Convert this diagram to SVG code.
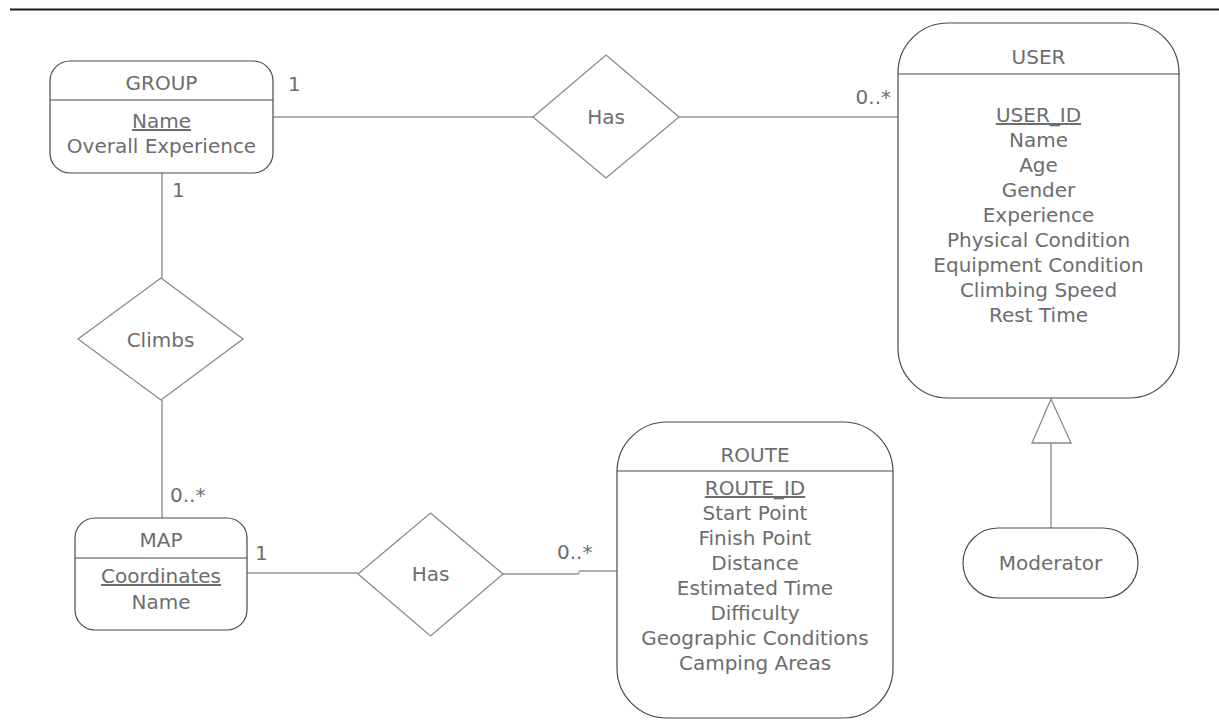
<svg xmlns="http://www.w3.org/2000/svg" width="1219" height="720" viewBox="0 0 1219 720">
<style>
  .ent { fill: #ffffff; stroke: #4a4a4a; stroke-width: 1.2; }
  .div { stroke: #4a4a4a; stroke-width: 1.2; fill: none; }
  .rel { fill: #ffffff; stroke: #8a8a8a; stroke-width: 1.3; }
  .con { stroke: #b0b0b0; stroke-width: 2; fill: none; }
  text { font-family: "DejaVu Sans", Verdana, sans-serif; font-size: 20px; fill: #6d6d6d; text-anchor: middle; }
  .key { text-decoration: underline; }
  .lbl { text-anchor: start; }
  .lblr { text-anchor: end; }
</style>
<rect width="1219" height="720" fill="#ffffff"/>
<line x1="10" y1="9.5" x2="1219" y2="9.5" stroke="#1a1a1a" stroke-width="2"/>

<g id="connectors">
  <line class="con" x1="273" y1="117" x2="533" y2="117"/>
  <line class="con" x1="679" y1="117" x2="898" y2="117"/>
  <line class="con" x1="162" y1="173" x2="162" y2="278"/>
  <line class="con" x1="162" y1="400" x2="162" y2="518"/>
  <line class="con" x1="247" y1="573" x2="358" y2="573"/>
  <polyline class="con" points="503,574 578,574 580,571 617,571"/>
  <line class="con" x1="1051" y1="528" x2="1051" y2="443"/>
  <polygon points="1051,399 1032,443 1071,443" fill="#ffffff" stroke="#8a8a8a" stroke-width="1.3"/>
  <text class="lbl" x="288" y="91">1</text>
  <text class="lblr" x="891" y="104">0..*</text>
  <text class="lbl" x="172" y="197">1</text>
  <text class="lbl" x="170" y="502">0..*</text>
  <text class="lbl" x="255" y="560">1</text>
  <text class="lbl" x="557" y="559">0..*</text>
</g>

<g id="group">
  <rect class="ent" x="50" y="61" width="223" height="112" rx="20" ry="20"/>
  <line class="div" x1="50" y1="100" x2="273" y2="100"/>
  <text x="161.5" y="90">GROUP</text>
  <text class="key" x="161.5" y="128">Name</text>
  <text x="161.5" y="153">Overall Experience</text>
</g>

<g id="has-top">
  <polygon class="rel" points="606,55 679,117 606,178 533,117"/>
  <text x="606" y="124">Has</text>
</g>

<g id="user">
  <rect class="ent" x="898" y="23" width="281" height="375" rx="50" ry="50"/>
  <line class="div" x1="898" y1="74" x2="1179" y2="74"/>
  <text x="1038.5" y="64">USER</text>
  <text class="key" x="1038.5" y="122">USER_ID</text>
  <text x="1038.5" y="147">Name</text>
  <text x="1038.5" y="172">Age</text>
  <text x="1038.5" y="197">Gender</text>
  <text x="1038.5" y="222">Experience</text>
  <text x="1038.5" y="247">Physical Condition</text>
  <text x="1038.5" y="272">Equipment Condition</text>
  <text x="1038.5" y="297">Climbing Speed</text>
  <text x="1038.5" y="322">Rest Time</text>
</g>

<g id="climbs">
  <polygon class="rel" points="161,278 243,339 161,400 78,339"/>
  <text x="160.5" y="347">Climbs</text>
</g>

<g id="map">
  <rect class="ent" x="75" y="518" width="172" height="112" rx="20" ry="20"/>
  <line class="div" x1="75" y1="558" x2="247" y2="558"/>
  <text x="161" y="547">MAP</text>
  <text class="key" x="161" y="583">Coordinates</text>
  <text x="161" y="609">Name</text>
</g>

<g id="has-bottom">
  <polygon class="rel" points="430.5,513 503,574 430.5,636 358,574"/>
  <text x="430.5" y="581">Has</text>
</g>

<g id="route">
  <rect class="ent" x="617" y="422" width="276" height="296" rx="50" ry="50"/>
  <line class="div" x1="617" y1="471" x2="893" y2="471"/>
  <text x="755" y="462">ROUTE</text>
  <text class="key" x="755" y="495">ROUTE_ID</text>
  <text x="755" y="520">Start Point</text>
  <text x="755" y="545">Finish Point</text>
  <text x="755" y="570">Distance</text>
  <text x="755" y="595">Estimated Time</text>
  <text x="755" y="620">Difficulty</text>
  <text x="755" y="645">Geographic Conditions</text>
  <text x="755" y="670">Camping Areas</text>
</g>

<g id="moderator">
  <rect class="ent" x="963" y="528" width="175" height="70" rx="35" ry="35"/>
  <text x="1050.5" y="570">Moderator</text>
</g>
</svg>
